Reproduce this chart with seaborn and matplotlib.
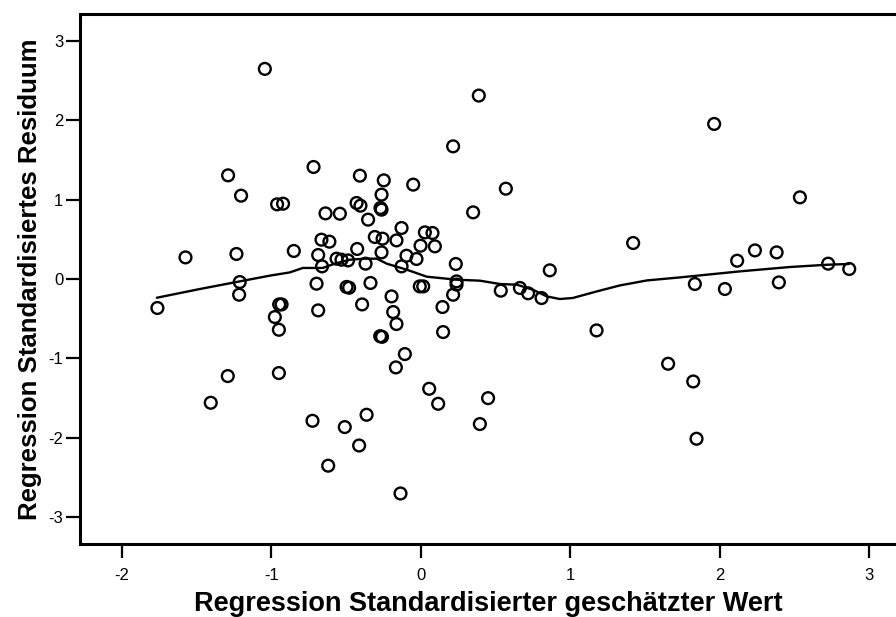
import matplotlib
matplotlib.use("Agg")
import matplotlib.pyplot as plt
import seaborn as sns
import pandas as pd

# Scatter data: standardized predicted value vs standardized residual
pred = [
    -1.763, -1.575, -1.290, -1.203, -1.234, -1.212, -1.216, -1.292, -1.406, -1.044,
    -0.962, -0.922, -0.850, -0.948, -0.932, -0.977, -0.950, -0.950, -0.725, -0.687,
    -0.620, -0.718, -0.638, -0.665, -0.612, -0.687, -0.661, -0.698,
    0.216, -0.408, -0.248, -0.051, -0.263, -0.430, -0.404, -0.270, -0.263, 0.350,
    -0.542, -0.353, -0.129, 0.027, 0.078, -0.308, -0.256, -0.163, -0.002, 0.094,
    -0.426, -0.263, -0.096, -0.029, -0.564, -0.531, -0.487, -0.370, -0.129, 0.234,
    -0.497, -0.480, -0.337, -0.007, 0.016, 0.239, 0.239, 0.388, 0.569, 0.863,
    -0.196, 0.216, 0.535, 0.663, 0.718, 0.808, 1.421, 1.176, 1.655, 0.450,
    -0.393, -0.185, 0.145, -0.163, 0.149, -0.272, -0.260, -0.107, -0.167, 0.056,
    0.116, -0.363, -0.509, -0.413, 0.395, -0.136,
    2.117, 2.236, 2.381, 2.726, 2.867, 1.834, 2.035, 2.396, 1.823, 1.845, 1.963, 2.537,
]
resid = [
    -0.365, 0.272, 1.305, 1.049, 0.315, -0.038, -0.198, -1.222, -1.558, 2.645,
    0.940, 0.948, 0.353, -0.320, -0.320, -0.479, -0.639, -1.184, -1.785, -0.395,
    -2.350, 1.410, 0.826, 0.495, 0.470, 0.302, 0.159, -0.059,
    1.670, 1.301, 1.242, 1.188, 1.062, 0.957, 0.923, 0.894, 0.873, 0.839,
    0.822, 0.747, 0.642, 0.587, 0.579, 0.529, 0.508, 0.486, 0.419, 0.411,
    0.378, 0.335, 0.293, 0.252, 0.256, 0.243, 0.234, 0.193, 0.159, 0.189,
    -0.100, -0.110, -0.050, -0.093, -0.093, -0.030, -0.070, 2.309, 1.137, 0.109,
    -0.219, -0.198, -0.147, -0.113, -0.180, -0.240, 0.453, -0.647, -1.067, -1.500,
    -0.320, -0.416, -0.353, -0.567, -0.668, -0.720, -0.728, -0.945, -1.113, -1.382,
    -1.571, -1.709, -1.864, -2.096, -1.826, -2.700,
    0.230, 0.360, 0.335, 0.193, 0.126, -0.063, -0.126, -0.043, -1.290, -2.011, 1.952, 1.028,
]

# Loess fit line
fit_x = [-1.767, -1.479, -1.212, -1.011, -0.877, -0.790, -0.656, -0.576, -0.475, -0.375,
         -0.295, -0.228, -0.094, 0.040, 0.241, 0.395, 0.529, 0.643, 0.750, 0.843,
         0.930, 1.017, 1.178, 1.332, 1.513, 1.734, 2.135, 2.470, 2.724, 2.865]
fit_y = [-0.236, -0.126, -0.030, 0.042, 0.083, 0.139, 0.139, 0.193, 0.243, 0.256,
         0.256, 0.193, 0.117, 0.029, -0.009, -0.021, -0.063, -0.072, -0.135, -0.219,
         -0.252, -0.239, -0.156, -0.081, -0.018, 0.020, 0.096, 0.151, 0.180, 0.189]

x_ticks = [-2, -1, 0, 1, 2, 3]
y_ticks = [-3, -2, -1, 0, 1, 2, 3]
x_label = "Regression Standardisierter geschätzter Wert"
y_label = "Regression Standardisiertes Residuum"

sns.set_style("ticks")
plt.rcParams["font.family"] = ["Liberation Sans", "DejaVu Sans"]

df = pd.DataFrame({"pred": pred, "resid": resid})
fit = pd.DataFrame({"x": fit_x, "y": fit_y})

fig = plt.figure(figsize=(8.96, 6.17), dpi=100)
ax = fig.add_axes([80 / 896, 73 / 617, 816 / 896, 530 / 617])

sns.lineplot(data=fit, x="x", y="y", sort=False, color="black", linewidth=1.7, ax=ax)
sns.scatterplot(data=df, x="pred", y="resid", ax=ax, s=72, facecolor="none",
                edgecolor="black", linewidth=1.7, zorder=3)

ax.set_xlim(-2.281, 3.18)
ax.set_ylim(-3.336, 3.336)
ax.set_xticks(x_ticks)
ax.set_yticks(y_ticks)
ax.set_xticklabels([str(t) for t in x_ticks])
ax.set_yticklabels([str(t) for t in y_ticks])

for side in ["left", "bottom", "top"]:
    ax.spines[side].set_linewidth(2.2)
    ax.spines[side].set_color("black")
ax.spines["right"].set_visible(False)

ax.tick_params(axis="both", direction="out", length=10, width=1.6, colors="black",
               labelsize=12)
ax.tick_params(axis="x", pad=7)
ax.tick_params(axis="y", pad=2)

ax.set_xlabel(x_label, fontsize=19.5, fontweight="bold", labelpad=6, color="black")
ax.set_ylabel(y_label, fontsize=18.5, fontweight="bold", labelpad=5, color="black")

fig.savefig("out.png", dpi=100)
